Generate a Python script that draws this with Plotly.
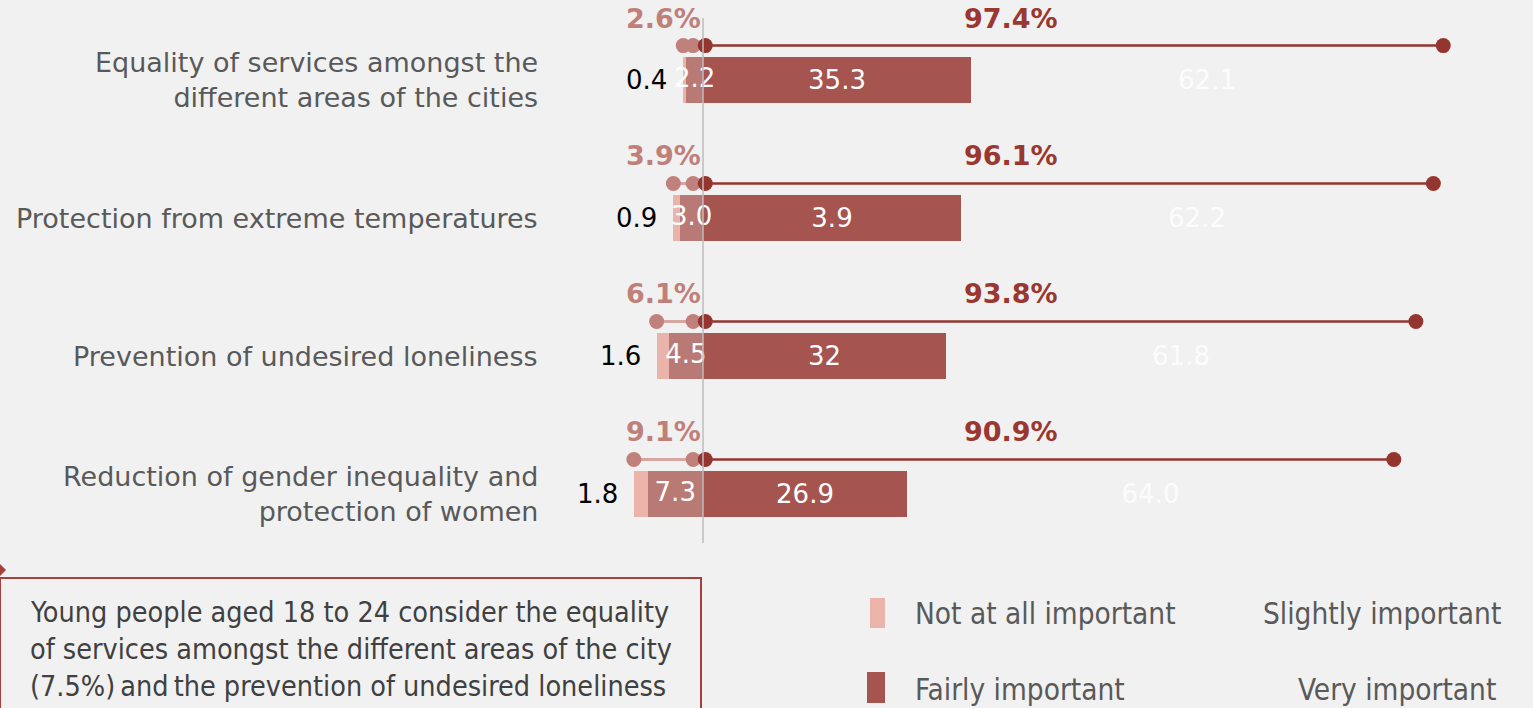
import plotly.graph_objects as go

# ---------------- data ----------------
categories = [
    "Equality of services amongst the<br>different areas of the cities",
    "Protection from extreme temperatures",
    "Prevention of undesired loneliness",
    "Reduction of gender inequality and<br>protection of women",
]
series_names = ["Not at all important", "Slightly important", "Fairly important", "Very important"]
not_at_all = [0.4, 0.9, 1.6, 1.8]
slightly = [2.2, 3.0, 4.5, 7.3]
fairly = [35.3, 33.9, 32.0, 26.9]
very = [62.1, 62.2, 61.8, 64.0]
not_at_all_labels = ["0.4", "0.9", "1.6", "1.8"]
slightly_labels = ["2.2", "3.0", "4.5", "7.3"]
fairly_labels = ["35.3", "3.9", "32", "26.9"]
very_labels = ["62.1", "62.2", "61.8", "64.0"]
low_total = [2.6, 3.9, 6.1, 9.1]
high_total = [97.4, 96.1, 93.8, 90.9]
low_total_labels = ["2.6%", "3.9%", "6.1%", "9.1%"]
high_total_labels = ["97.4%", "96.1%", "93.8%", "90.9%"]
note_lines = [
    "Young people aged 18 to 24 consider the equality",
    "of services amongst the different areas of the city",
    "(7.5%)\u2009and\u2009the prevention of undesired loneliness",
]

# ---------------- style ----------------
W, H = 1533, 708
BG = "#f1f1f1"
C_NOT = "#ebb4aa"
C_SLI = "#b97a75"
C_FAI = "#a5544f"
C_DARK = "#953530"
C_LDOT = "#c0807b"
C_LLINE = "#d6a7a2"
C_LPCT = "#c0807a"
C_GRAY = "#595959"
FONT = "DejaVu Sans"
FONT_C = "DejaVu Sans Condensed"

ypos = list(range(len(categories)))
neg_sli = [-v for v in slightly]
neg_not = [-v for v in not_at_all]
sli_mid = [-v / 2 for v in slightly]
left_ends = [-(a + b) for a, b in zip(not_at_all, slightly)]

fig = go.Figure()

fig.add_trace(go.Bar(
    y=ypos, x=neg_sli, orientation="h", marker=dict(color=C_SLI, line=dict(width=0)),
    width=0.33, name=series_names[1]))
fig.add_trace(go.Bar(
    y=ypos, x=neg_not, orientation="h", marker=dict(color=C_NOT, line=dict(width=0)),
    width=0.33, name=series_names[0]))
fig.add_trace(go.Bar(
    y=ypos, x=fairly, orientation="h", marker=dict(color=C_FAI, line=dict(width=0)),
    width=0.33, text=fairly_labels, textposition="inside", insidetextanchor="middle",
    textangle=0,
    textfont=dict(color="white", size=26, family=FONT), name=series_names[2]))
fig.add_trace(go.Bar(
    y=ypos, x=very, orientation="h", marker=dict(color="rgba(0,0,0,0)", line=dict(width=0)),
    width=0.33, text=very_labels, textposition="inside", insidetextanchor="middle",
    textangle=0,
    textfont=dict(color="rgba(255,255,255,0.85)", size=26, family=FONT), name=series_names[3]))

# slightly labels drawn on top of the bars
fig.add_trace(go.Scatter(
    x=sli_mid, y=ypos, mode="text", text=slightly_labels, textposition="middle center",
    cliponaxis=False, textfont=dict(color="white", size=26, family=FONT), hoverinfo="skip"))

# dumbbell lines
DY = 0.25
for i, yv in enumerate(ypos):
    fig.add_trace(go.Scatter(
        x=[-low_total[i], -1.3], y=[yv - DY, yv - DY], mode="lines+markers",
        line=dict(color=C_LLINE, width=3), marker=dict(color=C_LDOT, size=15),
        cliponaxis=False, hoverinfo="skip"))
    fig.add_trace(go.Scatter(
        x=[0.3, high_total[i]], y=[yv - DY, yv - DY], mode="lines+markers",
        line=dict(color=C_DARK, width=2.5), marker=dict(color=C_DARK, size=15),
        cliponaxis=False, hoverinfo="skip"))

# percentage labels
PY = 0.43
fig.add_trace(go.Scatter(
    x=[-5.2] * len(ypos), y=[v - PY for v in ypos], mode="text", text=low_total_labels,
    cliponaxis=False,
    textfont=dict(color=C_LPCT, size=27, family=FONT, weight="bold"), hoverinfo="skip"))
fig.add_trace(go.Scatter(
    x=[40.5] * len(ypos), y=[v - PY for v in ypos], mode="text", text=high_total_labels,
    cliponaxis=False,
    textfont=dict(color="#9a3730", size=27, family=FONT, weight="bold"), hoverinfo="skip"))

annotations = []
# outside labels of "not at all"
for xe, yv, lab in zip(left_ends, ypos, not_at_all_labels):
    annotations.append(dict(
        x=xe, xref="x", y=yv, yref="y", text=lab, showarrow=False,
        xanchor="right", yanchor="middle", xshift=-14,
        font=dict(size=26, color="black", family=FONT)))

# category labels
for yv, cat in zip(ypos, categories):
    annotations.append(dict(
        x=540 / W, xref="paper", y=yv, yref="y", text=cat, showarrow=False,
        xanchor="right", yanchor="middle", align="right",
        font=dict(size=27, color=C_GRAY, family=FONT)))

# note box text
for k, (line, py) in enumerate(zip(note_lines, [612, 649, 686])):
    annotations.append(dict(
        x=28 / W, xref="paper", y=1 - py / H, yref="paper", text=line, showarrow=False,
        xanchor="left", yanchor="middle", font=dict(size=28.5, color="#404040", family=FONT_C)))

# custom legend
leg = [
    (series_names[0], 913, 614, "left", C_NOT, (870, 885, 598, 628)),
    (series_names[1], 1503, 614, "right", None, None),
    (series_names[2], 913, 690, "left", C_FAI, (867, 885, 672, 703)),
    (series_names[3], 1498, 690, "right", None, None),
]
shapes = []
for name, lx, ly, anc, col, box in leg:
    annotations.append(dict(
        x=lx / W, xref="paper", y=1 - ly / H, yref="paper", text=name, showarrow=False,
        xanchor=anc, yanchor="middle", font=dict(size=29.5, color=C_GRAY, family=FONT_C)))
    if col:
        x0, x1, y0, y1 = box
        shapes.append(dict(type="rect", xref="paper", yref="paper",
                           x0=x0 / W, x1=x1 / W, y0=1 - y1 / H, y1=1 - y0 / H,
                           fillcolor=col, line=dict(width=0)))

# zero line above bars
shapes.append(dict(type="line", xref="x", yref="y domain", x0=0, x1=0, y0=0, y1=1,
                   line=dict(color="#bdbdbd", width=1.5), layer="above"))
# note box
shapes.append(dict(type="rect", xref="paper", yref="paper",
                   x0=0, x1=701 / W, y0=-0.1, y1=1 - 578 / H,
                   line=dict(color="#a5403a", width=2), fillcolor="rgba(0,0,0,0)"))
shapes.append(dict(type="path", xref="paper", yref="paper",
                   path=f"M {-6/W} {1-570/H} L {0} {1-564/H} L {6/W} {1-570/H} L {0} {1-576/H} Z",
                   fillcolor="#a5403a", line=dict(width=0)))

S = 7.6
x_lo = -(703 - 545) / S
x_hi = (1533 - 703) / S

fig.update_layout(
    width=W, height=H, barmode="relative", bargap=0,
    paper_bgcolor=BG, plot_bgcolor=BG, showlegend=False,
    margin=dict(l=0, r=0, t=0, b=0),
    xaxis=dict(domain=[545 / W, 1], range=[x_lo, x_hi], visible=False, showgrid=False,
               zeroline=False),
    yaxis=dict(domain=[1 - 543 / H, 1 - 18 / H], range=[3.355, -0.45], visible=False,
               showgrid=False, zeroline=False),
    annotations=annotations, shapes=shapes,
    font=dict(family=FONT),
)

fig.write_html(
    "out.html",
    config={"displayModeBar": False},
    post_script="document.body.style.margin='0';document.body.style.padding='0';"
                "document.body.style.overflow='hidden';document.body.style.background='" + BG + "';",
)
